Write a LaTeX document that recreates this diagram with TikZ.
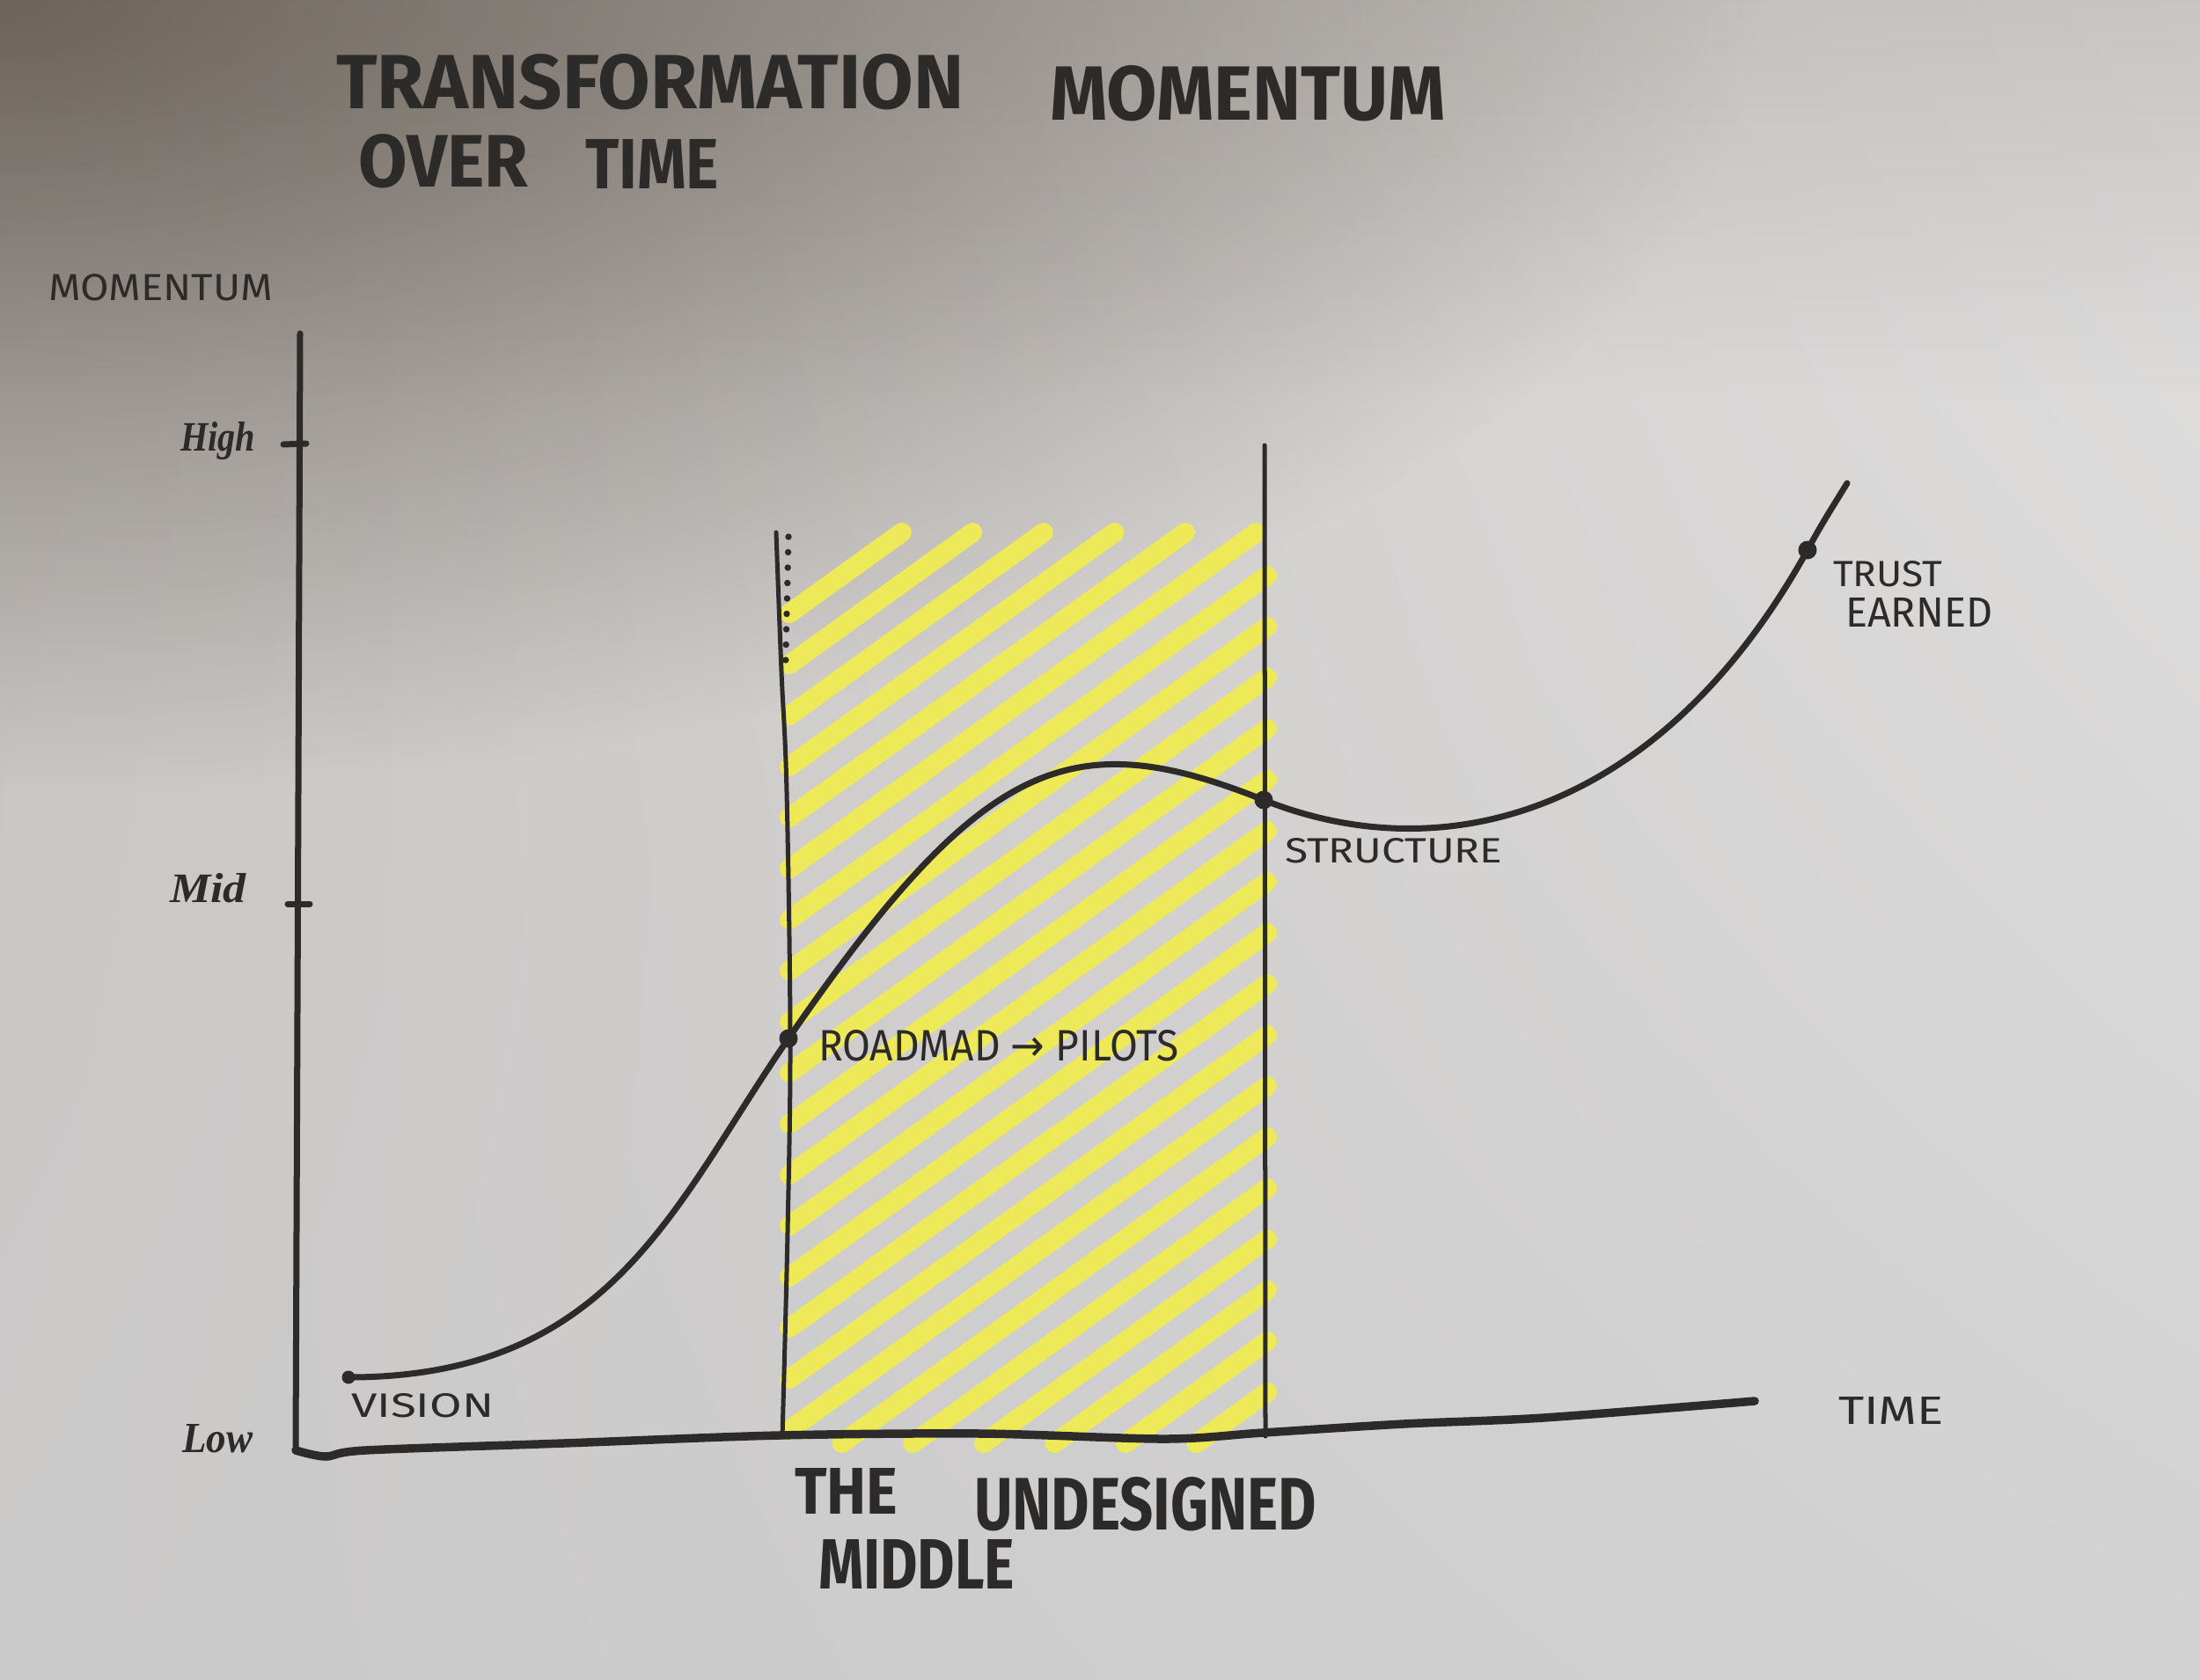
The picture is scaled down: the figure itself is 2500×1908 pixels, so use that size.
\documentclass[tikz,border=0pt]{standalone}
\usepackage{fontspec}
\usepackage{graphicx}
\usetikzlibrary{fadings,shadings}
\newfontfamily\handf{Fira Sans}
\newfontfamily\scriptf{Liberation Serif}
\newfontfamily\arrowf{DejaVu Sans}
\definecolor{ink}{HTML}{2D2B2A}
\definecolor{hilite}{HTML}{EEE958}
\definecolor{paperUL}{HTML}{C9C6C3}
\definecolor{paperUR}{HTML}{E0DFDE}
\definecolor{paperLL}{HTML}{CAC9C9}
\definecolor{paperLR}{HTML}{D3D2D3}
\definecolor{paperdark}{HTML}{5A5047}
\tikzfading[name=cornerfade, inner color=transparent!0, outer color=transparent!100]
\newcommand\fittext[3]{\resizebox{#1cm}{#2cm}{#3}}
\tikzset{
  lbl/.style={anchor=base west, inner sep=0pt, outer sep=0pt, text=ink},
  stripe/.style={draw=hilite, line width=0.22cm, line cap=round},
  bandline/.style={draw=ink, line width=0.05cm, line cap=round},
  axisline/.style={draw=ink, line width=0.07cm, line cap=round, line join=round},
  xaxisline/.style={draw=ink, line width=0.095cm, line cap=round, line join=round},
  curveline/.style={draw=ink, line width=0.07cm, line cap=round, line join=round},
  dot/.style={circle, fill=ink, inner sep=0pt, minimum size=0.21cm},
  smalldot/.style={circle, fill=ink, inner sep=0pt, minimum size=0.15cm}
}
\begin{document}
\begin{tikzpicture}[x=0.01cm, y=-0.01cm]
\useasboundingbox (0,0) rectangle (2500,1908);
% paper
\begin{scope}
\clip (0,0) rectangle (2500,1908);
\shade[upper left=paperUL, upper right=paperUR, lower left=paperLL, lower right=paperLR] (0,0) rectangle (2500,1908);
\fill[paperdark, opacity=0.18, path fading=south] (0,0) rectangle (2500,450);
\fill[paperdark, opacity=0.8, path fading=cornerfade] (0,0) ellipse [x radius=20cm, y radius=9cm];
\end{scope}

% yellow hatching of the undesigned middle
\foreach \k in {0,...,22}{
  \pgfmathsetmacro\bb{697+58*\k}
  \pgfmathsetmacro\xL{897+max(0,(\bb-1640)/0.72)}
  \pgfmathsetmacro\yL{min(\bb,1640)}
  \pgfmathsetmacro\xR{min(1440,897+(\bb-605)/0.72)}
  \pgfmathsetmacro\yR{max(\bb-391,605)}
  \draw[stripe] (\xL,\yL) -- (\xR,\yR);
}

% band boundary lines
\coordinate (bandLtop) at (882,605);
\coordinate (bandLbot) at (889,1633);
\coordinate (bandRtop) at (1437,506);
\coordinate (bandRbot) at (1438,1632);
\draw[bandline] plot[smooth, tension=0.6] coordinates {(bandLtop) (888,763) (894,900) (898,1180) (895,1400) (bandLbot)};
\draw[bandline] (bandRtop) -- (bandRbot);
\foreach \i in {0,...,8}
  \fill[ink] ({896-\i*0.4},{610+\i*17.5}) circle (0.037cm);

% axes
\coordinate (ytop) at (341,379);
\coordinate (origin) at (336,1648);
\coordinate (xend) at (1994,1592);
\draw[axisline] (ytop) -- (339,900) -- (origin);
\draw[xaxisline] plot[smooth, tension=0.5] coordinates {(origin) (370,1655) (415,1648) (640,1640) (885,1631) (1116,1629) (1324,1635) (1435,1628) (1595,1618) (1754,1611) (xend)};
\coordinate (hiL) at (322,505);
\coordinate (hiR) at (348,504);
\coordinate (midL) at (327,1027);
\coordinate (midR) at (352,1027);
\draw[axisline] (hiL) -- (hiR);
\draw[axisline] (midL) -- (midR);

% momentum curve
\node[smalldot] (vision) at (396,1565) {};
\node[dot] (roadmap) at (896,1180) {};
\node[dot] (structure) at (1436,909) {};
\node[dot] (trust) at (2054,625) {};
\coordinate (curveend) at (2099,549);
\draw[curveline] (vision.center) .. controls (696,1565) and (766,1368) .. (roadmap.center)
  .. controls (1116,861) and (1216,821) .. (structure.center)
  .. controls (1636,989) and (1884,931) .. (trust.center)
  .. controls (2070,595) and (2085,572) .. (curveend);

% texts
\node[lbl] (title1) at (382,123) {\fittext{7.13}{0.62}{\handf\bfseries TRANSFORMATION}};
\node[lbl] (title2) at (1193,136) {\fittext{4.50}{0.62}{\handf\bfseries MOMENTUM}};
\node[lbl] (title3) at (407,212) {\fittext{1.93}{0.60}{\handf\bfseries OVER}};
\node[lbl] (title4) at (665,214) {\fittext{1.52}{0.56}{\handf\bfseries TIME}};
\node[lbl] (ylab) at (55,341) {\fittext{2.55}{0.30}{\handf MOMENTUM}};
\node[lbl] (highl) at (205,512) {\fittext{0.85}{0.33}{\scriptf\bfseries\itshape High}};
\node[lbl] (midl) at (193,1025) {\fittext{0.87}{0.33}{\scriptf\bfseries\itshape Mid}};
\node[lbl] (lowl) at (207,1650) {\fittext{0.80}{0.32}{\scriptf\bfseries\itshape Low}};
\node[lbl] (visionl) at (399,1610) {\fittext{1.62}{0.27}{\handf VISION}};
\node[lbl] (roadl) at (930,1205) {\fittext{4.09}{0.35}{\handf ROADMAD {\arrowf →} PILOTS}};
\node[lbl] (structl) at (1460,980) {\fittext{2.47}{0.28}{\handf STRUCTURE}};
\node[lbl] (trustl) at (2083,666) {\fittext{1.24}{0.29}{\handf TRUST}};
\node[lbl] (earnedl) at (2097,712) {\fittext{1.67}{0.33}{\handf EARNED}};
\node[lbl] (timel) at (2089,1618) {\fittext{1.20}{0.31}{\handf TIME}};
\node[lbl] (thel) at (903,1720) {\fittext{1.17}{0.52}{\handf\bfseries THE}};
\node[lbl] (undesl) at (1107,1738) {\fittext{3.89}{0.60}{\handf\bfseries UNDESIGNED}};
\node[lbl] (middlel) at (930,1805) {\fittext{2.23}{0.56}{\handf\bfseries MIDDLE}};
\end{tikzpicture}
\end{document}
